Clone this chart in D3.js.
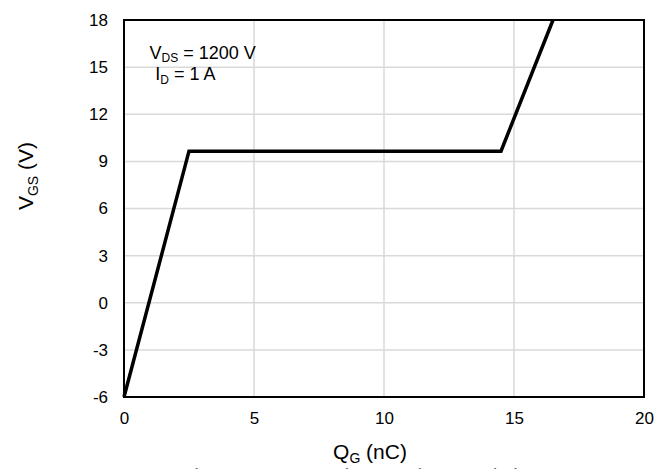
<!DOCTYPE html>
<html>
<head>
<meta charset="utf-8">
<script src="https://cdn.jsdelivr.net/npm/d3@7"></script>
<style>
  body { margin: 0; background: #fff; }
  svg text { font-family: "Liberation Sans", Arial, sans-serif; fill: #000; }
</style>
</head>
<body>
<div id="chart"></div>
<script>
// gate charge curve
const qg = [0, 2.5, 14.5, 16.5];        // nC
const vgs = [-6, 9.65, 9.65, 18];       // V
const xTicks = [0, 5, 10, 15, 20];
const yTicks = [-6, -3, 0, 3, 6, 9, 12, 15, 18];

const W = 670, H = 469;
const margin = { left: 124, right: 26, top: 20, bottom: 72 };
const w = W - margin.left - margin.right,
      h = H - margin.top - margin.bottom;

const svg = d3.select('#chart').append('svg')
    .attr('width', W).attr('height', H);

const x = d3.scaleLinear().domain([0, 20]).range([0, w]);
const y = d3.scaleLinear().domain([-6, 18]).range([h, 0]);

const g = svg.append('g')
    .attr('transform', 'translate(' + margin.left + ',' + margin.top + ')');

// gridlines
g.append('g').selectAll('line').data(xTicks.slice(1, -1)).enter()
    .append('line')
    .attr('x1', d => x(d)).attr('x2', d => x(d))
    .attr('y1', 0).attr('y2', h)
    .attr('stroke', '#d9d9d9').attr('stroke-width', 1.5);

g.append('g').selectAll('line').data(yTicks.slice(1, -1)).enter()
    .append('line')
    .attr('x1', 0).attr('x2', w)
    .attr('y1', d => y(d)).attr('y2', d => y(d))
    .attr('stroke', '#d9d9d9').attr('stroke-width', 1.5);

// axes (labels only, no tick marks); plain hyphen for negatives
const fmt = d => String(d);
const xAxis = g.append('g').attr('transform', 'translate(0,' + h + ')')
    .call(d3.axisBottom(x).tickValues(xTicks).tickFormat(fmt).tickSize(0).tickPadding(15));
const yAxis = g.append('g')
    .call(d3.axisLeft(y).tickValues(yTicks).tickFormat(fmt).tickSize(0).tickPadding(16));
[xAxis, yAxis].forEach(a => {
    a.select('.domain').remove();
    a.selectAll('text').attr('font-size', 17)
        .attr('font-family', '"Liberation Sans", Arial, sans-serif').attr('fill', '#000');
});

// the curve
const pts = qg.map((q, i) => ({ q: q, v: vgs[i] }));
const line = d3.line().x(d => x(d.q)).y(d => y(d.v));
g.append('path').datum(pts)
    .attr('d', line)
    .attr('fill', 'none')
    .attr('stroke', '#000')
    .attr('stroke-width', 3.5)
    .attr('stroke-linejoin', 'miter');

// plot frame
g.append('rect')
    .attr('x', 0).attr('y', 0).attr('width', w).attr('height', h)
    .attr('fill', 'none').attr('stroke', '#000').attr('stroke-width', 2);

// annotation
const note = g.append('text').attr('font-size', 18);
note.append('tspan').attr('x', x(0.98)).attr('y', y(15.5)).text('V');
note.append('tspan').attr('font-size', 12).attr('dy', 3).text('DS');
note.append('tspan').attr('dy', -3).text(' = 1200 V');
const note2 = g.append('text').attr('font-size', 18);
note2.append('tspan').attr('x', x(1.2)).attr('y', y(14.2)).text('I');
note2.append('tspan').attr('font-size', 12).attr('dy', 4).text('D');
note2.append('tspan').attr('dy', -4).text(' = 1 A');

// axis titles
const xt = svg.append('text')
    .attr('text-anchor', 'middle')
    .attr('x', 370).attr('y', 459)
    .attr('font-size', 21);
xt.append('tspan').text('Q');
xt.append('tspan').attr('font-size', 14).attr('dy', 4).text('G');
xt.append('tspan').attr('dy', -4).text(' (nC)');

const yt = svg.append('text')
    .attr('text-anchor', 'middle')
    .attr('transform', 'translate(33,176) rotate(-90)')
    .attr('font-size', 21);
yt.append('tspan').text('V');
yt.append('tspan').attr('font-size', 14).attr('dy', 5).text('GS');
yt.append('tspan').attr('dy', -5).text(' (V)');

// figure caption, cut off by the bottom edge
svg.append('text')
    .attr('text-anchor', 'middle')
    .attr('x', 360).attr('y', 483)
    .attr('font-size', 20.5)
    .style('fill', '#666')
    .text('Figure 10. Gate Charge Characteristics');
</script>
</body>
</html>
